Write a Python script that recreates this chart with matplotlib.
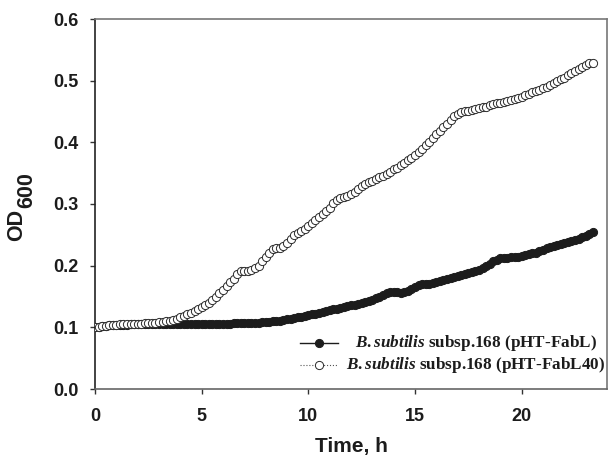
import numpy as np
import matplotlib
matplotlib.use("Agg")
import matplotlib.pyplot as plt
from matplotlib.lines import Line2D

# Time in hours, sampled every 10 minutes (0 .. 23.33 h)
time_h = np.arange(141) / 6.0

od_fabl = [
    0.100, 0.101, 0.102, 0.102, 0.103, 0.103, 0.104, 0.104, 0.104, 0.1045,
    0.105, 0.105, 0.105, 0.105, 0.1055, 0.1055, 0.1055, 0.1055, 0.106, 0.106,
    0.106, 0.106, 0.106, 0.106, 0.106, 0.106, 0.106, 0.106, 0.106, 0.106,
    0.106, 0.106, 0.106, 0.106, 0.106, 0.106, 0.106, 0.106, 0.1062, 0.1064,
    0.1066, 0.1068, 0.107, 0.107, 0.1072, 0.1074, 0.1076, 0.108, 0.1085, 0.109,
    0.1095, 0.110, 0.111, 0.112, 0.113, 0.114, 0.115, 0.116, 0.117, 0.118,
    0.1195, 0.121, 0.122, 0.1235, 0.125, 0.1265, 0.128, 0.1292, 0.1305, 0.1318,
    0.133, 0.1342, 0.1355, 0.137, 0.1385, 0.140, 0.1415, 0.143, 0.145, 0.147,
    0.149, 0.152, 0.155, 0.157, 0.158, 0.157, 0.156, 0.157, 0.159, 0.162,
    0.165, 0.168, 0.170, 0.171, 0.171, 0.172, 0.174, 0.175, 0.177, 0.178,
    0.180, 0.182, 0.183, 0.185, 0.186, 0.188, 0.190, 0.192, 0.193, 0.196,
    0.199, 0.203, 0.207, 0.210, 0.212, 0.213, 0.213, 0.2135, 0.214, 0.2145,
    0.215, 0.217, 0.219, 0.220, 0.221, 0.223, 0.226, 0.228, 0.230, 0.2315,
    0.233, 0.235, 0.237, 0.238, 0.240, 0.242, 0.244, 0.246, 0.248, 0.251,
    0.254,
]

od_fabl40 = [
    0.100, 0.101, 0.102, 0.1025, 0.103, 0.104, 0.1045, 0.105, 0.105, 0.1055,
    0.1055, 0.106, 0.106, 0.106, 0.1065, 0.1065, 0.107, 0.107, 0.108, 0.109,
    0.110, 0.111, 0.112, 0.114, 0.116, 0.118, 0.121, 0.124, 0.127, 0.130,
    0.133, 0.136, 0.140, 0.144, 0.149, 0.155, 0.161, 0.167, 0.173, 0.179,
    0.186, 0.191, 0.192, 0.191, 0.193, 0.196, 0.200, 0.207, 0.214, 0.221,
    0.227, 0.228, 0.229, 0.232, 0.237, 0.243, 0.249, 0.253, 0.257, 0.260,
    0.264, 0.269, 0.274, 0.279, 0.283, 0.288, 0.294, 0.301, 0.306, 0.309,
    0.311, 0.313, 0.316, 0.320, 0.324, 0.329, 0.333, 0.335, 0.337, 0.340,
    0.343, 0.346, 0.349, 0.352, 0.356, 0.359, 0.363, 0.367, 0.371, 0.375,
    0.379, 0.384, 0.389, 0.395, 0.401, 0.407, 0.413, 0.419, 0.425, 0.430,
    0.436, 0.442, 0.446, 0.449, 0.450, 0.451, 0.452, 0.454, 0.455, 0.457,
    0.458, 0.460, 0.462, 0.463, 0.464, 0.466, 0.467, 0.468, 0.470, 0.472,
    0.474, 0.476, 0.479, 0.481, 0.483, 0.485, 0.488, 0.490, 0.493, 0.496,
    0.499, 0.502, 0.505, 0.509, 0.512, 0.516, 0.519, 0.522, 0.525, 0.528,
    0.529,
]

x_ticks = [0, 5, 10, 15, 20]
y_ticks = [0.0, 0.1, 0.2, 0.3, 0.4, 0.5, 0.6]
y_tick_labels = ["0.0", "0.1", "0.2", "0.3", "0.4", "0.5", "0.6"]
legend_strain = "B.subtilis"
legend_rest = ["subsp.168 (pHT-FabL)", "subsp.168 (pHT-FabL40)"]

plt.rcParams["font.family"] = "Liberation Sans"
plt.rcParams["mathtext.fontset"] = "custom"
plt.rcParams["mathtext.rm"] = "Liberation Serif:bold"
plt.rcParams["mathtext.bf"] = "Liberation Serif:bold"
plt.rcParams["mathtext.it"] = "Liberation Serif:bold:italic"

W, H = 609, 465
fig = plt.figure(figsize=(W / 100, H / 100), dpi=100)
ax = fig.add_axes([95 / W, 1 - 389 / H, 512 / W, 370 / H])

ink = "#1c1c1c"
ax.plot(time_h, od_fabl, "-", color=ink, lw=1.0, marker="o", ms=5.9,
        mfc=ink, mec=ink, mew=0.7, zorder=2)
ax.plot(time_h, od_fabl40, ":", color="#555555", lw=0.8, marker="o", ms=5.9,
        mfc="white", mec="#2a2a2a", mew=0.7, zorder=3)

ax.set_xlim(0, 24)
ax.set_ylim(0, 0.6)
ax.set_xticks(x_ticks)
ax.set_yticks(y_ticks)
ax.set_yticklabels(y_tick_labels)
ax.tick_params(direction="out", length=3.6, width=1, colors="#333333",
               labelcolor=ink, labelsize=13)
ax.tick_params(axis="x", pad=10)
ax.tick_params(axis="y", pad=8)
for lab in ax.get_xticklabels() + ax.get_yticklabels():
    lab.set_fontweight("bold")

ax.spines["left"].set_color("#222222")
ax.spines["bottom"].set_color("#666666")
ax.spines["top"].set_color("#777777")
ax.spines["right"].set_color("#777777")
for s in ax.spines.values():
    s.set_linewidth(1.2)

ax.set_xlabel("Time, h", fontsize=15, fontweight="bold", color=ink, labelpad=9)

# y label: OD with a full-size, lowered "600" directly after it
od_txt = fig.text(17 / W, 1 - 225 / H, "OD", rotation=90, ha="center",
                  va="center", fontsize=15.5, fontweight="bold", color=ink)
fig.canvas.draw()
ax.annotate("600", xy=(0.5, 1.0), xycoords=od_txt, xytext=(7.2, 0.5),
            textcoords="offset points", rotation=90, ha="center", va="bottom",
            fontsize=15.5, fontweight="bold", color=ink, annotation_clip=False)

# legend (manual placement)
rows_y = [343, 365]
handle_styles = [
    dict(color=ink, lw=1.0, ls="-", mfc=ink, mec=ink, mew=0.7),
    dict(color="#555555", lw=0.8, ls=":", mfc="white", mec="#2a2a2a", mew=0.7),
]
for yy, st, rest in zip(rows_y, handle_styles, legend_rest):
    yf = 1 - yy / H
    fig.add_artist(Line2D([300 / W, 338 / W], [yf, yf], transform=fig.transFigure,
                          color=st["color"], lw=st["lw"], ls=st["ls"]))
    fig.add_artist(Line2D([319 / W], [yf], transform=fig.transFigure, ls="none",
                          marker="o", ms=5.9, mfc=st["mfc"], mec=st["mec"],
                          mew=st["mew"]))
    fig.text(476 / W, yf, r"$\it{" + legend_strain + "}$ " + rest,
             ha="center", va="center", fontsize=12.3, fontweight="bold",
             family="Liberation Serif", color=ink)

fig.savefig("out.png", dpi=100)
